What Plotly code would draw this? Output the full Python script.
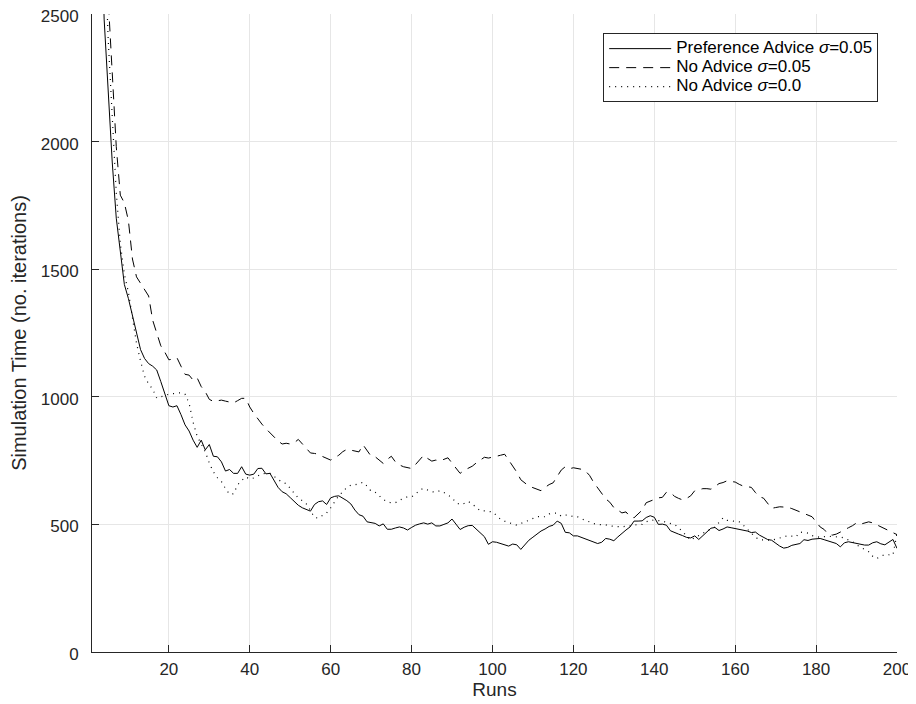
import plotly.graph_objects as go

runs = list(range(1, 201))

pref_advice_005 = [
    5200, 4100, 3100, 2480, 2180, 1920, 1700, 1560, 1440, 1385,
    1320, 1250, 1185, 1150, 1130, 1120, 1105, 1060, 1010, 965,
    960, 965, 930, 890, 866, 830, 802, 830, 792, 813,
    767, 765, 745, 709, 715, 700, 700, 726, 697, 693,
    697, 719, 720, 698, 700, 675, 645, 628, 620, 605,
    589, 575, 565, 558, 552, 578, 589, 592, 578, 604,
    610, 612, 603, 593, 580, 556, 538, 532, 510, 508,
    504, 494, 502, 481, 481, 486, 490, 486, 478, 488,
    497, 502, 506, 501, 506, 494, 494, 500, 506, 521,
    500, 480, 489, 495, 496, 480, 468, 452, 422, 432,
    430, 426, 421, 415, 423, 420, 402, 420, 438, 450,
    463, 474, 482, 492, 497, 513, 504, 469, 467, 455,
    455, 449, 443, 438, 432, 425, 430, 445, 442, 436,
    451, 466, 478, 490, 513, 513, 514, 527, 534, 528,
    500, 501, 497, 475, 467, 462, 456, 449, 447, 455,
    441, 456, 474, 485, 488, 476, 482, 490, 487, 484,
    481, 476, 474, 468, 470, 458, 448, 441, 438, 426,
    415, 407, 410, 418, 422, 425, 440, 437, 442, 444,
    445, 440, 436, 432, 425, 412, 428, 432, 428, 425,
    422, 419, 419, 428, 432, 424, 420, 430, 441, 406,
]

no_advice_005 = [
    7000, 5500, 4200, 3200, 2560, 2250, 1980, 1790, 1760, 1690,
    1540, 1470, 1445, 1420, 1395, 1300, 1250, 1200, 1175, 1145,
    1148, 1153, 1120, 1088, 1085, 1065, 1074, 1040, 1020, 990,
    982, 985, 987, 983, 978, 976, 985, 994, 994, 960,
    935, 912, 893, 875, 858, 845, 827, 815, 818, 815,
    820, 833, 815, 795, 780, 778, 775, 766, 760, 752,
    762, 771, 785, 794, 791, 786, 784, 812, 790, 767,
    765, 752, 739, 755, 767, 745, 733, 726, 722, 719,
    735, 755, 771, 758, 748, 752, 748, 755, 761, 740,
    718, 700, 712, 719, 728, 741, 752, 763, 760, 765,
    767, 771, 775, 752, 730, 705, 675, 663, 650, 644,
    638, 632, 645, 656, 663, 688, 713, 726, 718, 722,
    720, 716, 709, 692, 665, 642, 620, 600, 587, 566,
    556, 545, 549, 530, 526, 540, 556, 585, 592, 600,
    604, 606, 626, 625, 610, 602, 596, 602, 612, 632,
    637, 640, 640, 638, 648, 660, 664, 671, 668, 666,
    657, 650, 648, 645, 625, 608, 603, 583, 563, 566,
    569, 568, 567, 562, 556, 548, 545, 538, 530, 510,
    490, 480, 461, 458, 462, 470, 480, 487, 495, 506,
    501, 505, 510, 506, 498, 491, 482, 476, 468, 460,
]

no_advice_000 = [
    6500, 5000, 3800, 2850, 2400, 2100, 1800, 1600, 1480, 1410,
    1300, 1210, 1140, 1080, 1050, 1030, 995, 1000, 1008, 1010,
    1012, 1015, 1016, 1010, 975, 900, 845, 815, 785, 740,
    706, 683, 668, 640, 618, 620, 655, 672, 686, 678,
    682, 690, 698, 700, 700, 688, 675, 665, 660, 640,
    620, 603, 593, 580, 555, 527, 525, 535, 545, 565,
    590, 612, 628, 645, 654, 655, 660, 665, 650, 630,
    626, 612, 598, 589, 584, 585, 594, 603, 608, 608,
    618, 635, 641, 635, 628, 626, 632, 625, 615, 605,
    585, 578, 582, 590, 580, 565, 553, 553, 552, 549,
    535, 520, 513, 506, 502, 497, 502, 510, 516, 524,
    531, 530, 530, 541, 544, 545, 532, 537, 536, 530,
    530, 522, 515, 510, 503, 500, 500, 498, 494, 492,
    491, 491, 492, 494, 498, 500, 500, 510, 517, 516,
    515, 514, 507, 502, 500, 488, 470, 452, 438, 448,
    458, 465, 474, 482, 490, 508, 526, 516, 513, 513,
    510, 497, 480, 466, 450, 440, 439, 438, 438, 442,
    447, 453, 456, 454, 451, 470, 469, 466, 456, 452,
    449, 452, 454, 452, 451, 451, 446, 440, 432, 420,
    410, 400, 393, 375, 366, 375, 382, 381, 380, 465,
]

series_names = [
    "Preference Advice <i>σ</i>=0.05",
    "No Advice <i>σ</i>=0.05",
    "No Advice <i>σ</i>=0.0",
]

x_ticks = [20, 40, 60, 80, 100, 120, 140, 160, 180, 200]
y_ticks = [0, 500, 1000, 1500, 2000, 2500]

INK = "#262626"
GRID = "#e6e6e6"
FONT = "Liberation Sans, Arial, sans-serif"


def legend_label(text):
    # larger glyphs than the legend's nominal font, to keep the rows tight
    return '<span style="font-size:17px">' + text + "</span>"


fig = go.Figure()
fig.add_trace(go.Scatter(x=runs, y=pref_advice_005, mode="lines",
                         name=legend_label(series_names[0]),
                         line=dict(color="black", width=1)))
fig.add_trace(go.Scatter(x=runs, y=no_advice_005, mode="lines",
                         name=legend_label(series_names[1]),
                         line=dict(color="black", width=1, dash="10px,7px")))
fig.add_trace(go.Scatter(x=runs, y=no_advice_000, mode="lines",
                         name=legend_label(series_names[2]),
                         line=dict(color="black", width=1.2, dash="1px,5px")))

axis_common = dict(
    showgrid=True, gridcolor=GRID, gridwidth=1,
    showline=True, linecolor=INK, linewidth=1,
    ticks="inside", ticklen=7, tickcolor=INK, tickwidth=1,
    tickfont=dict(family=FONT, size=17, color=INK),
    zeroline=False, automargin=False, ticklabeloverflow="allow",
)

# the page body adds an 8px offset, so the figure is sized to the visible area
fig.update_layout(
    width=908, height=696,
    margin=dict(l=84, r=19, t=6, b=52),
    paper_bgcolor="white", plot_bgcolor="white",
    font=dict(family=FONT, color=INK),
    xaxis=dict(range=[1, 200], tickvals=x_ticks, ticklabelstandoff=2,
               title=dict(text="Runs", font=dict(family=FONT, size=19, color=INK), standoff=4),
               **axis_common),
    yaxis=dict(range=[0, 2500], tickvals=y_ticks, ticklabelstandoff=9,
               ticklabelshift=2,
               title=dict(text="Simulation Time (no. iterations)", font=dict(family=FONT, size=20, color=INK), standoff=8),
               **axis_common),
    legend=dict(x=0.635, y=0.97, xanchor="left", yanchor="top",
                bgcolor="white", bordercolor=INK, borderwidth=1,
                font=dict(family=FONT, size=11.8, color="black"),
                itemwidth=62, tracegroupgap=0),
    showlegend=True,
)

fig.write_html("out.html")
